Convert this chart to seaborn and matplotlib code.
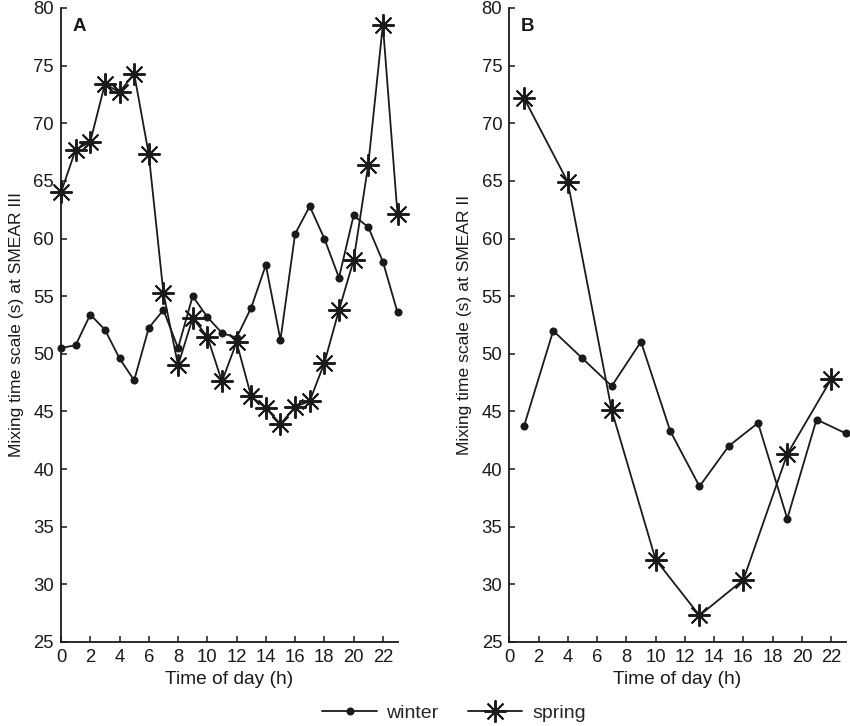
import numpy as np
import pandas as pd
import matplotlib
matplotlib.use("Agg")
import matplotlib.pyplot as plt
import seaborn as sns
from matplotlib.lines import Line2D

# Panel A (SMEAR III) - hourly values
hours_a = list(range(24))
winter_a = [50.5, 50.75, 53.4, 52.1, 49.6, 47.7, 52.25, 53.8, 50.5, 55.0, 53.2, 51.8,
            51.4, 54.0, 57.7, 51.2, 60.4, 62.8, 60.0, 56.6, 62.0, 61.0, 58.0, 53.6]
spring_a = [64.0, 67.7, 68.4, 73.4, 72.7, 74.3, 67.3, 55.3, 49.0, 53.1, 51.5, 47.6,
            51.0, 46.3, 45.3, 43.9, 45.4, 45.9, 49.2, 53.8, 58.1, 66.4, 78.55, 62.1]

# Panel B (SMEAR II)
hours_b_winter = [1, 3, 5, 7, 9, 11, 13, 15, 17, 19, 21, 23]
winter_b = [43.7, 52.0, 49.6, 47.2, 51.05, 43.3, 38.5, 42.0, 44.0, 35.7, 44.3, 43.1]
hours_b_spring = [1, 4, 7, 10, 13, 16, 19, 22]
spring_b = [72.2, 64.9, 45.1, 32.15, 27.3, 30.4, 41.3, 47.8]

sns.set_style("ticks")
plt.rcParams["font.family"] = ["Liberation Sans", "DejaVu Sans"]

TICK_FS = 13.3
LAB_FS = 13.8
INK = "#1a1a1a"
star = (8, 2, 0)

fig = plt.figure(figsize=(8.5, 7.26), dpi=100)
ax_a = fig.add_axes([61/850, 84/726, 336.5/850, 634/726])
ax_b = fig.add_axes([509.3/850, 84/726, 336.5/850, 634/726])

def draw(ax, xw, yw, xs, ys, ylabel, letter):
    sns.lineplot(x=xw, y=yw, ax=ax, color=INK, lw=1.3, marker="o",
                 markersize=5.8, markeredgewidth=0, clip_on=False)
    sns.lineplot(x=xs, y=ys, ax=ax, color=INK, lw=1.3, marker=star,
                 markersize=16, markeredgewidth=1.4, markeredgecolor=INK, clip_on=False)
    ax.set_xlim(0, 23)
    ax.set_ylim(25, 80)
    ax.set_xticks(range(0, 23, 2))
    ax.set_yticks(range(25, 81, 5))
    ax.tick_params(direction="in", length=4.5, width=1.1, labelsize=TICK_FS, pad=5,
                   colors=INK)
    for s in ["top", "right"]:
        ax.spines[s].set_visible(False)
    for s in ["left", "bottom"]:
        ax.spines[s].set_linewidth(1.3)
        ax.spines[s].set_color(INK)
    ax.set_xlabel("Time of day (h)", fontsize=LAB_FS, labelpad=4, color=INK)
    ax.set_ylabel(ylabel, fontsize=12.6, labelpad=7, color=INK)
    ax.text(0.055, 0.985, letter, transform=ax.transAxes, fontsize=13.5,
            fontweight="bold", va="top", ha="center", color=INK)

draw(ax_a, hours_a, winter_a, hours_a, spring_a,
     "Mixing time scale (s) at SMEAR III", "A")
draw(ax_b, hours_b_winter, winter_b, hours_b_spring, spring_b,
     "Mixing time scale (s) at SMEAR II", "B")

handles = [
    Line2D([], [], color=INK, lw=1.3, marker="o", markersize=5.8, markeredgewidth=0),
    Line2D([], [], color=INK, lw=1.3, marker=star, markersize=16, markeredgewidth=1.4),
]
fig.legend(handles, ["winter", "spring"], loc="center", bbox_to_anchor=(454/850, 1 - 713/726),
           ncol=2, frameon=False, fontsize=14, handlelength=2.8, columnspacing=1.5,
           handletextpad=0.5)

fig.savefig("out.png", dpi=100)
